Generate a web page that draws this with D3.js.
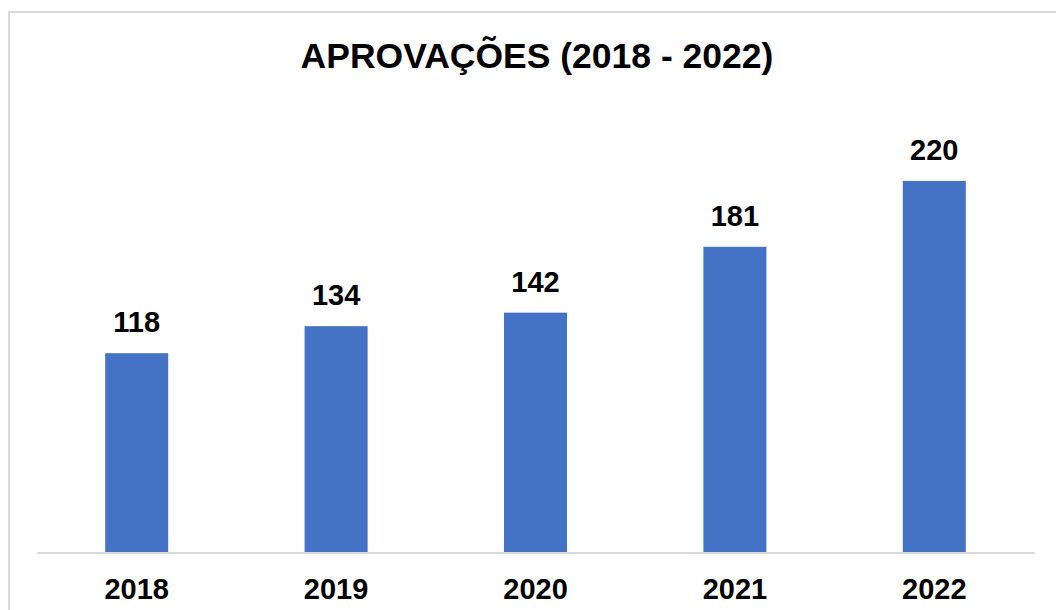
<!DOCTYPE html>
<html>
<head>
<meta charset="utf-8">
<script src="https://cdn.jsdelivr.net/npm/d3@7"></script>
<style>
  body { margin: 0; background: #fff; }
  text { font-family: "Liberation Sans", Arial, sans-serif; font-weight: bold; fill: #000; }
</style>
</head>
<body>
<div class="chart"></div>
<script>
var svgWidth = 1056;
var svgHeight = 610;

var years = ["2018", "2019", "2020", "2021", "2022"];
var approvals = [118, 134, 142, 181, 220];
var title = "APROVAÇÕES (2018 - 2022)";

var baseY = 552.5;

var svg = d3.select(".chart")
  .append("svg")
  .attr("width", svgWidth)
  .attr("height", svgHeight);

// chart frame (only left and top edges are visible in the picture)
svg.append("rect")
  .attr("x", 9)
  .attr("y", 12)
  .attr("width", 1100)
  .attr("height", 700)
  .attr("fill", "none")
  .attr("stroke", "#d9d9d9")
  .attr("stroke-width", 2);

var x = d3.scaleBand()
  .domain(years)
  .range([37, 1034])
  .paddingInner(0.684)
  .paddingOuter(0.342);

var y = d3.scaleLinear()
  .domain([0, 250])
  .range([baseY, baseY - 250 * 1.689]);

svg.append("text")
  .attr("x", 537)
  .attr("y", 68)
  .attr("text-anchor", "middle")
  .attr("font-size", 35.5)
  .text(title);

svg.selectAll(".bar")
  .data(approvals)
  .enter()
  .append("rect")
  .attr("class", "bar")
  .attr("x", (d, i) => x(years[i]))
  .attr("y", d => y(d))
  .attr("width", x.bandwidth())
  .attr("height", d => baseY - y(d))
  .attr("fill", "#4472c4");

svg.selectAll(".val")
  .data(approvals)
  .enter()
  .append("text")
  .attr("class", "val")
  .attr("x", (d, i) => x(years[i]) + x.bandwidth() / 2)
  .attr("y", d => y(d) - 21)
  .attr("text-anchor", "middle")
  .attr("font-size", 29)
  .text(d => d);

// baseline axis
var bottomAxis = d3.axisBottom(x).tickSize(0).tickPadding(26);
var axisG = svg.append("g")
  .attr("transform", `translate(0, ${baseY})`)
  .call(bottomAxis);
axisG.select(".domain").attr("stroke", "#d9d9d9").attr("stroke-width", 2);
axisG.selectAll("text")
  .attr("font-size", 29)
  .attr("font-family", "Liberation Sans, Arial, sans-serif")
  .attr("font-weight", "bold")
  .attr("fill", "#000");
</script>
</body>
</html>
